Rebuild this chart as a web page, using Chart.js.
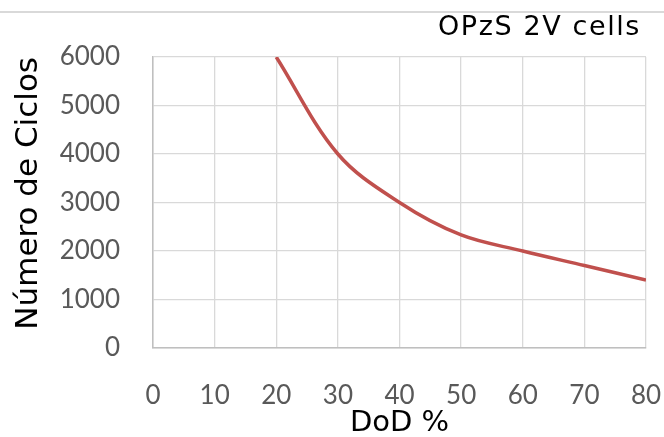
<!DOCTYPE html>
<html>
<head>
<meta charset="utf-8">
<script src="https://cdn.jsdelivr.net/npm/chart.js@4"></script>
<style>
  html, body { margin: 0; padding: 0; background: #fff; }
  #wrap { position: relative; width: 664px; height: 437px; }
  #topline { position: absolute; left: 0; top: 11px; width: 664px; border-top: 2px solid #d9d9d9; }
</style>
</head>
<body>
<div id="wrap">
  <canvas id="c" width="664" height="437"></canvas>
  <div id="topline"></div>
</div>
<script>
const dod = [20, 30, 40, 50, 60, 70, 80];
const ciclos = [6000, 4000, 3000, 2330, 2000, 1700, 1400];
const xTicks = [0, 10, 20, 30, 40, 50, 60, 70, 80];
const yTicks = [0, 1000, 2000, 3000, 4000, 5000, 6000];
const chartTitle = 'OPzS 2V cells';

const points = dod.map((d, i) => ({ x: d, y: ciclos[i] }));
const TICKFONT = 'Lato, "Open Sans", sans-serif';
const TITLEFONT = '"DejaVu Sans", sans-serif';

const titlePlugin = {
  id: 'cornerTitle',
  afterDraw(chart) {
    const ctx = chart.ctx;
    ctx.save();
    ctx.font = '27px ' + TITLEFONT;
    ctx.fillStyle = '#000';
    ctx.textAlign = 'right';
    ctx.textBaseline = 'middle';
    try { ctx.letterSpacing = '1.6px'; } catch (e) {}
    ctx.fillText(chartTitle, 641, 28);
    ctx.restore();
  }
};

new Chart(document.getElementById('c'), {
  type: 'scatter',
  data: {
    datasets: [{
      data: points,
      showLine: true,
      borderColor: '#C0504D',
      borderWidth: 3.5,
      pointRadius: 0,
      tension: 0.35,
      fill: false
    }]
  },
  plugins: [titlePlugin],
  options: {
    responsive: false,
    animation: false,
    devicePixelRatio: 1,
    layout: { padding: { left: 10, right: 0, top: 57, bottom: 0 } },
    plugins: {
      legend: { display: false },
      tooltip: { enabled: false },
      title: { display: false }
    },
    scales: {
      x: {
        type: 'linear',
        min: 0, max: 80,
        afterBuildTicks: (s) => { s.ticks = xTicks.map(v => ({ value: v })); },
        grid: { color: '#d9d9d9', lineWidth: 1.3, drawTicks: false },
        border: { color: '#bfbfbf', width: 1.5 },
        ticks: { color: '#595959', font: { family: TICKFONT, size: 26 }, padding: 32, callback: (v) => String(v) },
        title: { display: true, text: 'DoD %', color: '#000', font: { family: TITLEFONT, size: 29, lineHeight: 0.9 }, padding: { top: 0, bottom: 0 } },
        afterFit: (s) => { s.height = 89; s.paddingLeft = 0; s.paddingRight = 18; }
      },
      y: {
        type: 'linear',
        min: 0, max: 6000,
        afterBuildTicks: (s) => { s.ticks = yTicks.map(v => ({ value: v })); },
        grid: { color: '#d9d9d9', lineWidth: 1.3, drawTicks: false },
        border: { color: '#bfbfbf', width: 1.5 },
        ticks: { color: '#595959', font: { family: TICKFONT, size: 26 }, padding: 33, callback: (v) => String(v) },
        title: { display: true, text: 'Número de Ciclos', align: 'end', color: '#000', font: { family: TITLEFONT, size: 31 }, padding: { top: 0, bottom: 0 } },
        afterFit: (s) => { s.width = 143; s.paddingTop = 0; s.paddingBottom = 0; }
      }
    }
  }
});
</script>
</body>
</html>
